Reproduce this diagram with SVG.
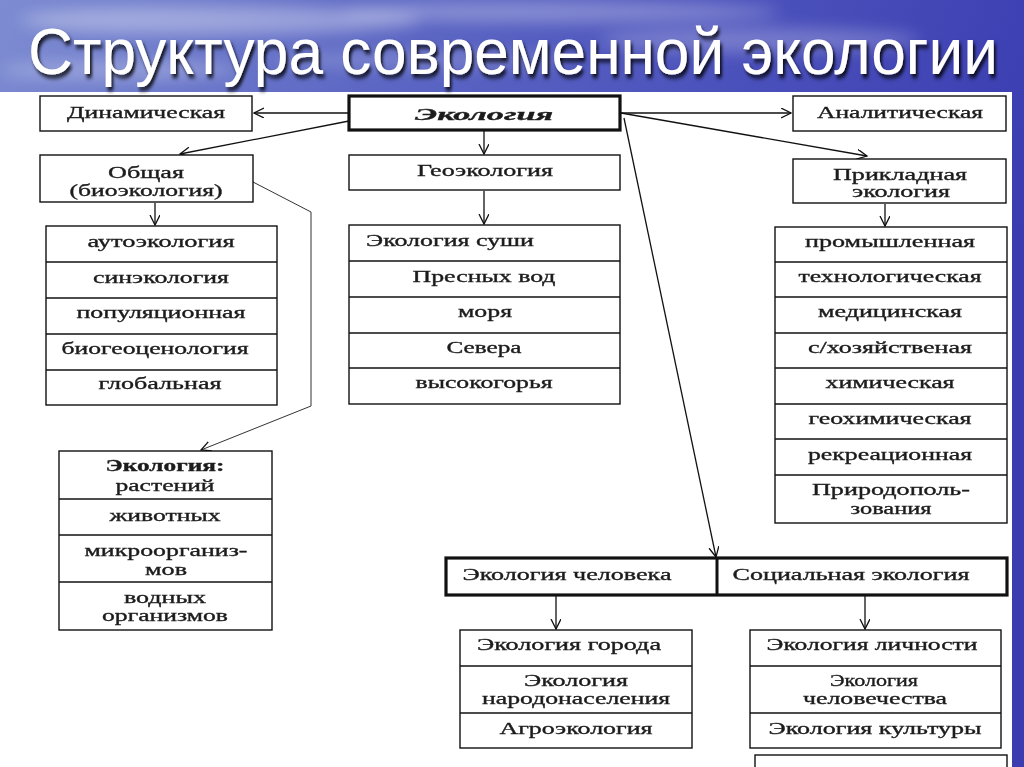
<svg xmlns="http://www.w3.org/2000/svg" width="1024" height="767" viewBox="0 0 1024 767">
<defs>
<linearGradient id="sky" x1="0" y1="0" x2="1" y2="0.3">
<stop offset="0" stop-color="#7d8cd2"/>
<stop offset="0.35" stop-color="#5d68c4"/>
<stop offset="0.7" stop-color="#4a50bb"/>
<stop offset="1" stop-color="#3a3cb0"/>
</linearGradient>
<filter id="blur" x="-50%" y="-50%" width="200%" height="200%"><feGaussianBlur stdDeviation="8"/></filter>
<filter id="shadow" x="-5%" y="-20%" width="110%" height="140%"><feDropShadow dx="2" dy="3" stdDeviation="1.5" flood-color="#000" flood-opacity="0.85"/></filter>
<marker id="arr" markerUnits="userSpaceOnUse" markerWidth="12" markerHeight="12" refX="10" refY="5" orient="auto">
<path d="M0,0 L10,5 L0,10" fill="none" stroke="#111" stroke-width="1.3"/>
</marker>
<style>
.box{fill:#fff;stroke:#111;stroke-width:1.4}
.thick{fill:#fff;stroke:#111;stroke-width:3.2}
.sep{stroke:#111;stroke-width:1.3}
.t{font-family:"Liberation Serif","Times New Roman",serif;font-size:17px;fill:#1c1c1c;stroke:#1c1c1c;stroke-width:0.35;text-anchor:middle}
.b{font-weight:bold}
.con{fill:none;stroke:#111;stroke-width:1.3}
.thin{fill:none;stroke:#333;stroke-width:1}
</style>
</defs>
<!-- background -->
<rect x="0" y="0" width="1024" height="767" fill="url(#sky)"/>
<g filter="url(#blur)" fill="#fff">
<ellipse cx="220" cy="20" rx="200" ry="14" opacity="0.35"/>
<ellipse cx="560" cy="12" rx="220" ry="10" opacity="0.3"/>
<ellipse cx="760" cy="40" rx="160" ry="12" opacity="0.25"/>
<ellipse cx="120" cy="70" rx="120" ry="10" opacity="0.25"/>
<ellipse cx="420" cy="60" rx="150" ry="8" opacity="0.2"/>
</g>
<rect x="0" y="92" width="1012" height="675" fill="#fff"/>
<g transform="translate(28,74) scale(1,1.25)">
<text x="0" y="0" font-family="'Liberation Sans',Arial,sans-serif" font-size="52" fill="#fff" textLength="970" lengthAdjust="spacingAndGlyphs" filter="url(#shadow)">Структура современной экологии</text>
</g>

<g id="connectors">
<path class="con" d="M349,113 L254,113" marker-end="url(#arr)"/>
<path class="con" d="M349,121 L180,154" marker-end="url(#arr)"/>
<path class="con" d="M484,131 L484,154" marker-end="url(#arr)"/>
<path class="con" d="M484,191 L484,224" marker-end="url(#arr)"/>
<path class="con" d="M621,113 L791,113" marker-end="url(#arr)"/>
<path class="con" d="M621,113 L867,156" marker-end="url(#arr)"/>
<path class="con" d="M624,118 L716,557" marker-end="url(#arr)"/>
<path class="con" d="M155,203 L155,225" marker-end="url(#arr)"/>
<path class="thin" d="M253,182 L311,212 L311,406 L201,450" marker-end="url(#arr)"/>
<path class="con" d="M885,204 L885,226" marker-end="url(#arr)"/>
<path class="con" d="M556,596 L556,629" marker-end="url(#arr)"/>
<path class="con" d="M865,596 L865,629" marker-end="url(#arr)"/>
</g>

<g id="ecology">
<rect class="thick" x="349" y="96" width="271" height="34"/>
<text class="t b" x="484" y="120" font-style="italic" font-size="23" textLength="138" lengthAdjust="spacingAndGlyphs">Экология</text>
</g>
<g id="dynamic">
<rect class="box" x="40" y="96" width="212" height="35"/>
<text class="t" x="146" y="118" textLength="158" lengthAdjust="spacingAndGlyphs">Динамическая</text>
</g>
<g id="analytic">
<rect class="box" x="793" y="96" width="213" height="35"/>
<text class="t" x="900" y="118" textLength="166" lengthAdjust="spacingAndGlyphs">Аналитическая</text>
</g>
<g id="general">
<rect class="box" x="40" y="155" width="213" height="47"/>
<text class="t" x="146" y="178" textLength="76" lengthAdjust="spacingAndGlyphs">Общая</text>
<text class="t" x="146" y="196" textLength="153" lengthAdjust="spacingAndGlyphs">(биоэкология)</text>
</g>
<g id="geo">
<rect class="box" x="349" y="155" width="271" height="35"/>
<text class="t" x="485" y="176" textLength="136" lengthAdjust="spacingAndGlyphs">Геоэкология</text>
</g>
<g id="applied">
<rect class="box" x="793" y="159" width="213" height="44"/>
<text class="t" x="900" y="180" textLength="134" lengthAdjust="spacingAndGlyphs">Прикладная</text>
<text class="t" x="901" y="197" textLength="98" lengthAdjust="spacingAndGlyphs">экология</text>
</g>

<g id="bio-list">
<rect class="box" x="46" y="226" width="231" height="179"/>
<line class="sep" x1="46" y1="262" x2="277" y2="262"/>
<line class="sep" x1="46" y1="298" x2="277" y2="298"/>
<line class="sep" x1="46" y1="334" x2="277" y2="334"/>
<line class="sep" x1="46" y1="370" x2="277" y2="370"/>
<text class="t" x="161" y="247" textLength="147" lengthAdjust="spacingAndGlyphs">аутоэкология</text>
<text class="t" x="161" y="283" textLength="136" lengthAdjust="spacingAndGlyphs">синэкология</text>
<text class="t" x="161" y="318" textLength="169" lengthAdjust="spacingAndGlyphs">популяционная</text>
<text class="t" x="155" y="354" textLength="187" lengthAdjust="spacingAndGlyphs">биогеоценология</text>
<text class="t" x="160" y="389" textLength="123" lengthAdjust="spacingAndGlyphs">глобальная</text>
</g>

<g id="geo-list">
<rect class="box" x="349" y="225" width="271" height="179"/>
<line class="sep" x1="349" y1="261" x2="620" y2="261"/>
<line class="sep" x1="349" y1="297" x2="620" y2="297"/>
<line class="sep" x1="349" y1="333" x2="620" y2="333"/>
<line class="sep" x1="349" y1="368" x2="620" y2="368"/>
<text class="t" x="450" y="246" textLength="168" lengthAdjust="spacingAndGlyphs">Экология суши</text>
<text class="t" x="484" y="282" textLength="143" lengthAdjust="spacingAndGlyphs">Пресных вод</text>
<text class="t" x="485" y="317" textLength="54" lengthAdjust="spacingAndGlyphs">моря</text>
<text class="t" x="484" y="353" textLength="75" lengthAdjust="spacingAndGlyphs">Севера</text>
<text class="t" x="484" y="388" textLength="137" lengthAdjust="spacingAndGlyphs">высокогорья</text>
</g>

<g id="applied-list">
<rect class="box" x="775" y="227" width="232" height="296"/>
<line class="sep" x1="775" y1="262" x2="1007" y2="262"/>
<line class="sep" x1="775" y1="297" x2="1007" y2="297"/>
<line class="sep" x1="775" y1="333" x2="1007" y2="333"/>
<line class="sep" x1="775" y1="368" x2="1007" y2="368"/>
<line class="sep" x1="775" y1="404" x2="1007" y2="404"/>
<line class="sep" x1="775" y1="439" x2="1007" y2="439"/>
<line class="sep" x1="775" y1="475" x2="1007" y2="475"/>
<text class="t" x="890" y="247" textLength="170" lengthAdjust="spacingAndGlyphs">промышленная</text>
<text class="t" x="890" y="282" textLength="183" lengthAdjust="spacingAndGlyphs">технологическая</text>
<text class="t" x="890" y="317" textLength="144" lengthAdjust="spacingAndGlyphs">медицинская</text>
<text class="t" x="890" y="353" textLength="164" lengthAdjust="spacingAndGlyphs">с/хозяйственая</text>
<text class="t" x="890" y="388" textLength="129" lengthAdjust="spacingAndGlyphs">химическая</text>
<text class="t" x="890" y="424" textLength="163" lengthAdjust="spacingAndGlyphs">геохимическая</text>
<text class="t" x="890" y="460" textLength="164" lengthAdjust="spacingAndGlyphs">рекреационная</text>
<text class="t" x="891" y="495" textLength="158" lengthAdjust="spacingAndGlyphs">Природополь-</text>
<text class="t" x="891" y="514" textLength="81" lengthAdjust="spacingAndGlyphs">зования</text>
</g>

<g id="organisms-list">
<rect class="box" x="59" y="451" width="213" height="179"/>
<line class="sep" x1="59" y1="499" x2="272" y2="499"/>
<line class="sep" x1="59" y1="535" x2="272" y2="535"/>
<line class="sep" x1="59" y1="582" x2="272" y2="582"/>
<text class="t b" x="165" y="471" textLength="119" lengthAdjust="spacingAndGlyphs">Экология:</text>
<text class="t" x="165" y="491" textLength="99" lengthAdjust="spacingAndGlyphs">растений</text>
<text class="t" x="165" y="521" textLength="111" lengthAdjust="spacingAndGlyphs">животных</text>
<text class="t" x="166" y="556" textLength="163" lengthAdjust="spacingAndGlyphs">микроорганиз-</text>
<text class="t" x="166" y="575" textLength="42" lengthAdjust="spacingAndGlyphs">мов</text>
<text class="t" x="165" y="603" textLength="82" lengthAdjust="spacingAndGlyphs">водных</text>
<text class="t" x="165" y="621" textLength="126" lengthAdjust="spacingAndGlyphs">организмов</text>
</g>

<g id="human-social">
<rect class="thick" x="446" y="558" width="561" height="37"/>
<line x1="717" y1="558" x2="717" y2="595" stroke="#111" stroke-width="3"/>
<text class="t" x="567" y="580" textLength="209" lengthAdjust="spacingAndGlyphs">Экология человека</text>
<text class="t" x="851" y="580" textLength="237" lengthAdjust="spacingAndGlyphs">Социальная экология</text>
</g>

<g id="human-list">
<rect class="box" x="460" y="630" width="232" height="118"/>
<line class="sep" x1="460" y1="666" x2="692" y2="666"/>
<line class="sep" x1="460" y1="713" x2="692" y2="713"/>
<text class="t" x="569" y="650" textLength="184" lengthAdjust="spacingAndGlyphs">Экология города</text>
<text class="t" x="576" y="686" textLength="104" lengthAdjust="spacingAndGlyphs">Экология</text>
<text class="t" x="576" y="704" textLength="188" lengthAdjust="spacingAndGlyphs">народонаселения</text>
<text class="t" x="576" y="734" textLength="153" lengthAdjust="spacingAndGlyphs">Агроэкология</text>
</g>

<g id="social-list">
<rect class="box" x="750" y="630" width="251" height="118"/>
<line class="sep" x1="750" y1="666" x2="1001" y2="666"/>
<line class="sep" x1="750" y1="713" x2="1001" y2="713"/>
<text class="t" x="872" y="650" textLength="211" lengthAdjust="spacingAndGlyphs">Экология личности</text>
<text class="t" x="874" y="686" textLength="88" lengthAdjust="spacingAndGlyphs">Экология</text>
<text class="t" x="875" y="704" textLength="144" lengthAdjust="spacingAndGlyphs">человечества</text>
<text class="t" x="875" y="734" textLength="213" lengthAdjust="spacingAndGlyphs">Экология культуры</text>
</g>

<g id="partial-box">
<rect class="box" x="755" y="755" width="252" height="30"/>
</g>
</svg>
